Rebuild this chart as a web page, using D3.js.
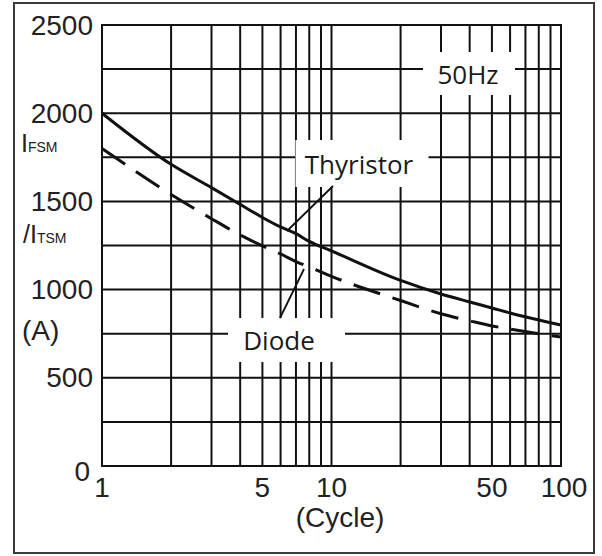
<!DOCTYPE html>
<html>
<head>
<meta charset="utf-8">
<script src="https://cdn.jsdelivr.net/npm/d3@7/dist/d3.min.js"></script>
<style>
  html, body { margin: 0; padding: 0; background: #fff; }
  svg { display: block; }
</style>
</head>
<body>
<svg id="chart" width="602" height="556"></svg>
<script>
// ---- data ----
const cycles     = [1, 2, 3, 4, 5, 6, 7, 8, 10, 20, 30, 40, 50, 60, 100];
const thyristor  = [2000, 1710, 1578, 1483, 1409, 1355, 1317, 1273, 1219, 1052, 975, 930, 896, 867, 799];
const diode      = [1800, 1539, 1402, 1310, 1248, 1202, 1159, 1128, 1075, 938, 863, 823, 794, 776, 731];
const xGridValues = [1, 2, 3, 4, 5, 6, 7, 8, 9, 10, 20, 30, 40, 50, 60, 70, 80, 90, 100];
const xTickLabels = [1, 5, 10, 50, 100];
const yTickLabels = [0, 500, 1000, 1500, 2000, 2500];
const yGridStep = 250;

// ---- layout ----
const plot = { left: 102, right: 561, top: 25, bottom: 466 };
const svg = d3.select("#chart");

const x = d3.scaleLog().domain([1, 100]).range([plot.left, plot.right]);
const y = d3.scaleLinear().domain([0, 2500]).range([plot.bottom, plot.top]);

const tickFont = "'Liberation Sans', Arial, sans-serif";
const labelFont = "'Open Sans', 'Noto Sans', sans-serif";

// outer frame
svg.append("rect")
  .attr("x", 14).attr("y", 3).attr("width", 580).attr("height", 550)
  .attr("fill", "none").attr("stroke", "#3a3a3a").attr("stroke-width", 2);

// grid
const g = svg.append("g");
g.selectAll("line.vx").data(xGridValues).join("line")
  .attr("class", "vx")
  .attr("x1", d => x(d)).attr("x2", d => x(d))
  .attr("y1", plot.top).attr("y2", plot.bottom)
  .attr("stroke", "#111").attr("stroke-width", 2);
g.selectAll("line.hy").data(d3.range(0, 2500 + 1, yGridStep)).join("line")
  .attr("class", "hy")
  .attr("x1", plot.left - 1).attr("x2", plot.right + 1)
  .attr("y1", d => y(d)).attr("y2", d => y(d))
  .attr("stroke", "#111").attr("stroke-width", 2);

// y tick labels
svg.append("g").selectAll("text").data(yTickLabels).join("text")
  .attr("x", d => d === 0 ? 90 : 93)
  .attr("y", d => y(d) + (d === 0 ? 5 : 0))
  .attr("text-anchor", "end")
  .attr("dominant-baseline", "central")
  .attr("font-family", tickFont).attr("font-size", 28).attr("fill", "#222")
  .text(d => d);

// x tick labels
svg.append("g").selectAll("text").data(xTickLabels).join("text")
  .attr("x", d => x(d) + (d === 100 ? 3 : 0))
  .attr("y", 487)
  .attr("text-anchor", "middle")
  .attr("dominant-baseline", "central")
  .attr("font-family", tickFont).attr("font-size", 28).attr("fill", "#222")
  .text(d => d);

// axis titles
svg.append("text")
  .attr("x", 340).attr("y", 517)
  .attr("text-anchor", "middle").attr("dominant-baseline", "central")
  .attr("font-family", tickFont).attr("font-size", 28).attr("fill", "#222")
  .text("(Cycle)");

const t1 = svg.append("text").attr("x", 21).attr("y", 152)
  .attr("font-family", tickFont).attr("fill", "#222");
t1.append("tspan").attr("font-size", 25).text("I");
t1.append("tspan").attr("font-size", 14).text("FSM");

const t2 = svg.append("text").attr("x", 23).attr("y", 243)
  .attr("font-family", tickFont).attr("fill", "#222");
t2.append("tspan").attr("font-size", 25).text("/I");
t2.append("tspan").attr("font-size", 14).text("TSM");

svg.append("text").attr("x", 22).attr("y", 330)
  .attr("dominant-baseline", "central")
  .attr("font-family", tickFont).attr("font-size", 28).attr("fill", "#222")
  .text("(A)");

// curves
const line = d3.line()
  .x(d => x(d[0])).y(d => y(d[1]))
  .curve(d3.curveMonotoneX);

svg.append("path")
  .datum(cycles.map((c, i) => [c, diode[i]]))
  .attr("d", line)
  .attr("fill", "none").attr("stroke", "#111").attr("stroke-width", 3)
  .attr("stroke-dasharray", "28,13");

svg.append("path")
  .datum(cycles.map((c, i) => [c, thyristor[i]]))
  .attr("d", line)
  .attr("fill", "none").attr("stroke", "#111").attr("stroke-width", 3);

// annotations (label boxes clear the grid)
const labels = [
  { text: "Thyristor", cx: 362, cy: 163.5, w: 133, h: 47, tx: 359 },
  { text: "Diode",     cx: 286.5, cy: 340, w: 117, h: 44, tx: 279 },
  { text: "50Hz",      cx: 469, cy: 73.5, w: 92, h: 43, tx: 468 }
];
labels.forEach(l => {
  svg.append("rect")
    .attr("x", l.cx - l.w / 2).attr("y", l.cy - l.h / 2)
    .attr("width", l.w).attr("height", l.h)
    .attr("fill", "#fff");
  svg.append("text")
    .attr("x", l.tx).attr("y", l.cy)
    .attr("text-anchor", "middle").attr("dominant-baseline", "central")
    .attr("font-family", labelFont).attr("font-size", 26).attr("fill", "#1a1a1a")
    .text(l.text);
});

// leader lines
svg.append("line")
  .attr("x1", 333).attr("y1", 186).attr("x2", 287).attr("y2", 231)
  .attr("stroke", "#111").attr("stroke-width", 1.8);
svg.append("line")
  .attr("x1", 280).attr("y1", 318).attr("x2", 304).attr("y2", 269)
  .attr("stroke", "#111").attr("stroke-width", 1.8);
</script>
</body>
</html>
